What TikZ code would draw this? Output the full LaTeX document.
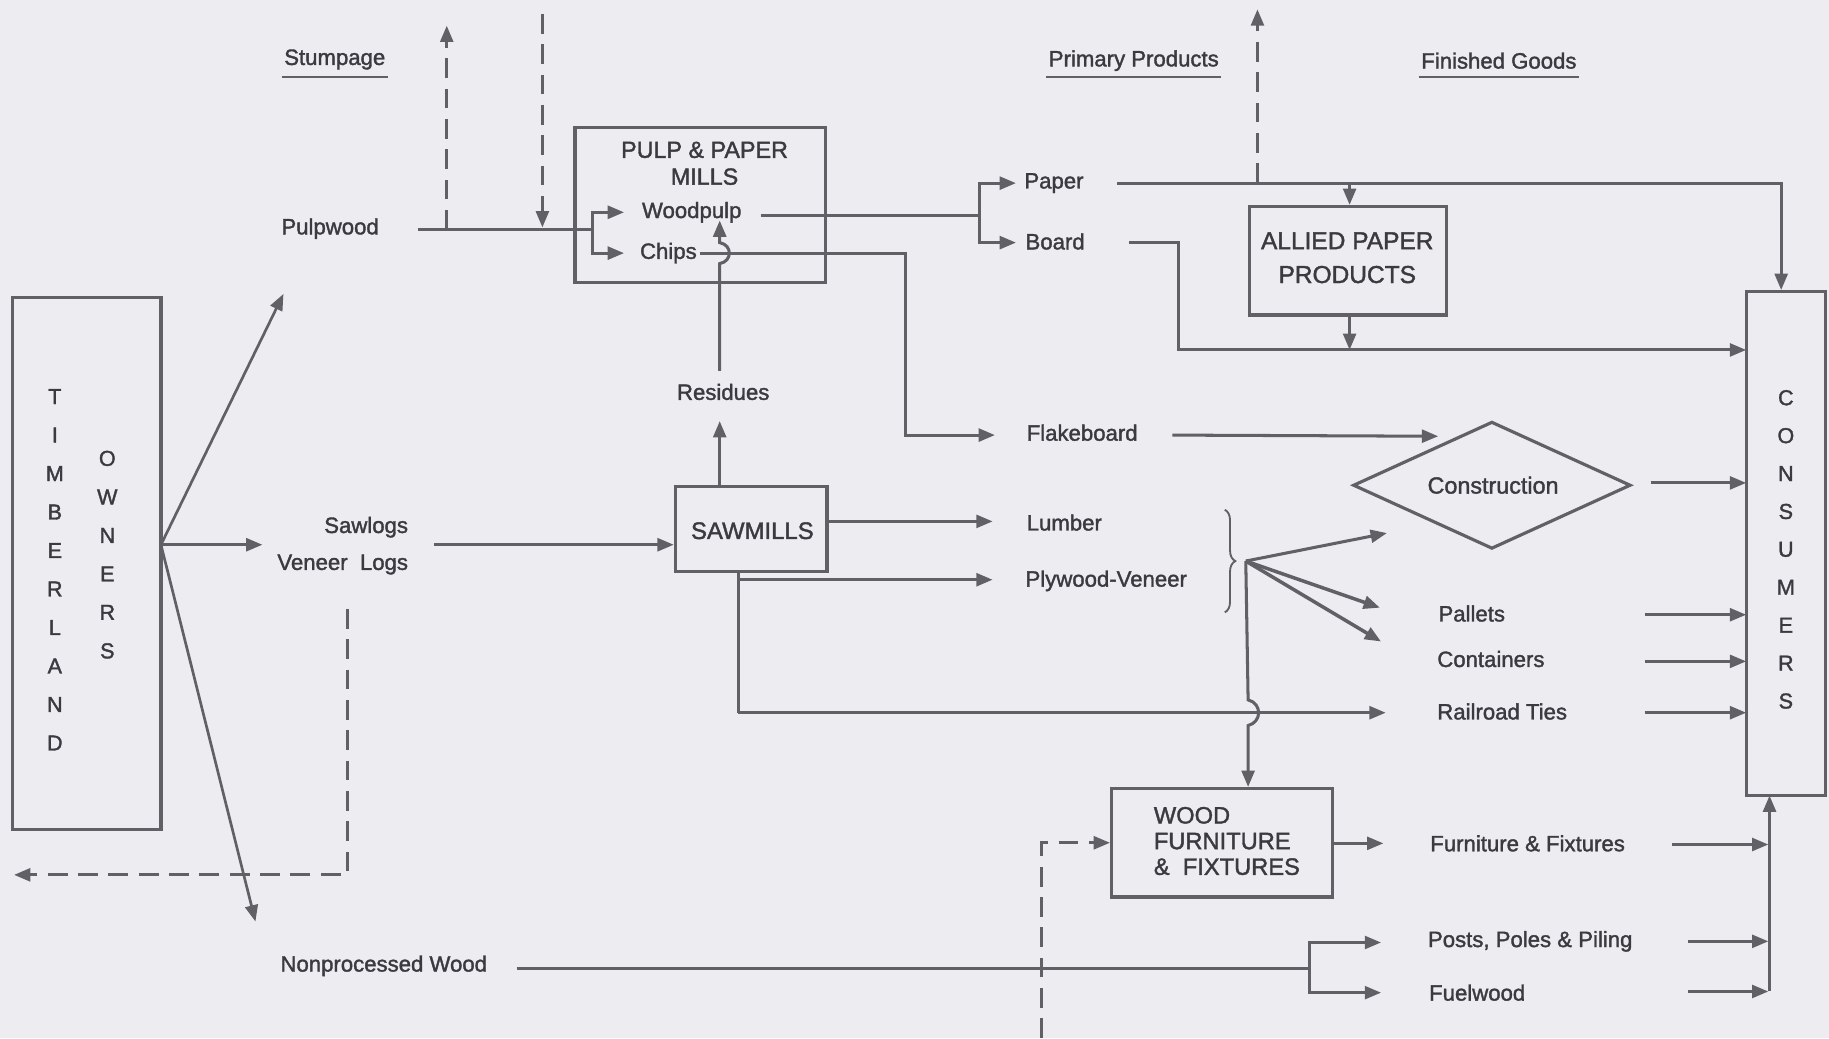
\documentclass[tikz,border=0pt]{standalone}
\usepackage{fontspec}
\setmainfont{Liberation Sans}[FakeBold=1.6]
\usetikzlibrary{arrows.meta,decorations.pathreplacing,shapes.geometric}
\definecolor{bg}{RGB}{237,237,241}
\definecolor{ln}{RGB}{96,96,102}
\definecolor{tx}{RGB}{58,58,64}
\begin{document}
\begin{tikzpicture}[x=1pt,y=-1pt,
  lbl/.style={text=tx,font=\fontsize{19}{22}\selectfont,inner sep=0pt},
  ttl/.style={text=tx,font=\fontsize{20}{23}\selectfont,inner sep=0pt,align=center},
  letter/.style={text=tx,font=\fontsize{18.5}{20}\selectfont,inner sep=0pt},
  boxnode/.style={draw=ln,line width=2.7pt,inner sep=0pt},
  conn/.style={draw=ln,line width=2.6pt},
  arr/.style={conn,-{Triangle[length=14pt,width=11pt]}},
  dsh/.style={conn,dash pattern=on 17pt off 9pt},
  uline/.style={draw=ln,line width=2pt}
]
\fill[bg] (0,0) rectangle (1568,890);
\useasboundingbox (0,0) rectangle (1568,890);

% ---------- headers ----------
\node[lbl] (stump) at (287,51) {Stumpage};
\node[lbl] (prim) at (972,52) {Primary Products};
\node[lbl] (fin) at (1285,52) {Finished Goods};
\draw[uline] ([yshift=-6pt,xshift=-2pt]stump.south west) -- ([yshift=-6pt,xshift=2pt]stump.south east);
\draw[uline] ([yshift=-5pt,xshift=-2pt]prim.south west) -- ([yshift=-5pt,xshift=2pt]prim.south east);
\draw[uline] ([yshift=-7pt,xshift=-2pt]fin.south west) -- ([yshift=-7pt,xshift=2pt]fin.south east);

% ---------- boxes ----------
\node[boxnode,minimum width=127pt,minimum height=456pt] (tim) at (74.5,483) {};
\foreach \l [count=\i] in {T,I,M,B,E,R,L,A,N,D}
  \node[letter] (tl\i) at (47,{340+33*(\i-1)}) {\l};
\foreach \l [count=\i] in {O,W,N,E,R,S}
  \node[letter] (to\i) at (92,{393+33*(\i-1)}) {\l};

\node[boxnode,minimum width=68pt,minimum height=432pt] (cons) at (1531,466) {};
\foreach \l [count=\i] in {C,O,N,S,U,M,E,R,S}
  \node[letter] (cl\i) at (1531,{341+32.5*(\i-1)}) {\l};

\node[boxnode,minimum width=215pt,minimum height=133pt] (pulp) at (600.5,175.5) {};
\node[ttl] (pulpt) at (604,140) {PULP \& PAPER\\MILLS};
\node[lbl] (wp) at (593,182) {Woodpulp};
\node[lbl] (chips) at (573,217) {Chips};

\node[boxnode,minimum width=169pt,minimum height=93pt] (allied) at (1155.5,223.5) {};
\node[ttl,font=\fontsize{21}{29}\selectfont] (alliedt) at (1155,221) {ALLIED PAPER\\PRODUCTS};

\node[boxnode,minimum width=130pt,minimum height=73pt] (saw) at (644,453.5) {};
\node[ttl,font=\fontsize{20.5}{23}\selectfont] (sawt) at (645,455) {SAWMILLS};

\node[boxnode,minimum width=189pt,minimum height=93pt] (wf) at (1047.5,722.5) {};
\node[ttl,align=left,anchor=west,font=\fontsize{20.3}{22}\selectfont] (wft) at (989,721) {WOOD\\FURNITURE\\\&\ \ FIXTURES};

\node[draw=ln,line width=2.7pt,diamond,minimum width=238pt,minimum height=109pt,inner sep=0pt] (constr) at (1279,416) {};
\node[lbl,font=\fontsize{20}{22}\selectfont] (constrt) at (1280,416) {Construction};

% ---------- labels ----------
\node[lbl] (pw) at (283,196) {Pulpwood};
\node[lbl,anchor=east] (sawlogs) at (350,452) {Sawlogs};
\node[lbl,anchor=east] (veneer) at (350,484) {Veneer\ \ Logs};
\node[lbl] (npw) at (329,828) {Nonprocessed Wood};
\node[lbl] (res) at (620,336) {Residues};
\node[lbl,anchor=west] (paper) at (878,157) {Paper};
\node[lbl,anchor=west] (board) at (879,207) {Board};
\node[lbl,anchor=west] (flake) at (880,371) {Flakeboard};
\node[lbl,anchor=west] (lumber) at (880,448) {Lumber};
\node[lbl,anchor=west] (plywood) at (879,498) {Plywood-Veneer};
\node[lbl,anchor=west] (pallets) at (1233,526) {Pallets};
\node[lbl,anchor=west] (contain) at (1232,565) {Containers};
\node[lbl,anchor=west] (rail) at (1232,610) {Railroad Ties};
\node[lbl,anchor=west] (furn) at (1226,723) {Furniture \& Fixtures};
\node[lbl,anchor=west] (posts) at (1224,807) {Posts, Poles \& Piling};
\node[lbl,anchor=west] (fuel) at (1225,851) {Fuelwood};

% ---------- coordinates ----------
\coordinate (fan) at (138,467);
\coordinate (fanP) at (243,252);
\coordinate (fanS) at (225,467);
\coordinate (fanN) at (219,790);
\coordinate (dA) at (298,522);
\coordinate (dB) at (298,750);
\coordinate (dC) at (12,750);
\coordinate (pwS) at (358,197);
\coordinate (pwJ) at (508,197);
\coordinate (pwU) at (383,197);
\coordinate (pwUt) at (383,22);
\coordinate (pwDt) at (465,12);
\coordinate (pwD) at (465,195);
\coordinate (wpA) at (535,182);
\coordinate (chA) at (535,217);
\coordinate (wpS) at (652,185);
\coordinate (wpJ) at (840,185);
\coordinate (paA) at (871,157);
\coordinate (boA) at (871,208);
\coordinate (chS) at (600,217);
\coordinate (chJ) at (776,217);
\coordinate (flA) at (853,373);
\coordinate (resS) at (617,318);
\coordinate (resH1) at (617,226);
\coordinate (resH2) at (617,208);
\coordinate (resE) at (617,189);
\coordinate (sawUp) at (617,361);
\coordinate (slS) at (372,467);
\coordinate (lumS) at (709,447);
\coordinate (lumA) at (851,447);
\coordinate (sawB) at (633,490);
\coordinate (plyJ) at (633,497);
\coordinate (plyA) at (851,497);
\coordinate (railJ) at (633,611);
\coordinate (railA) at (1188,611);
\coordinate (paS) at (958,157);
\coordinate (paAl) at (1157,157);
\coordinate (paC) at (1527,157);
\coordinate (paUp) at (1078,157);
\coordinate (paUpt) at (1078,8);
\coordinate (boS) at (968,208);
\coordinate (boJ) at (1010,208);
\coordinate (alB) at (1157,300);
\coordinate (boC) at (1497,300);
\coordinate (flS) at (1005,373);
\coordinate (flE) at (1233,374);
\coordinate (coS) at (1415,414);
\coordinate (coE) at (1497,414);
\coordinate (br) at (1068,481);
\coordinate (brC) at (1189,457);
\coordinate (brP) at (1183,521);
\coordinate (brK) at (1184,550);
\coordinate (brH1) at (1070,600);
\coordinate (brH2) at (1070,622);
\coordinate (paS2) at (1410,527);
\coordinate (paE2) at (1497,527);
\coordinate (ctS) at (1410,567);
\coordinate (ctE) at (1497,567);
\coordinate (rtS) at (1410,611);
\coordinate (rtE) at (1497,611);
\coordinate (wfA) at (1186,723);
\coordinate (wdB) at (893,890);
\coordinate (npS) at (443,830);
\coordinate (npJ) at (1123,830);
\coordinate (poA) at (1184,808);
\coordinate (fuA) at (1184,851);
\coordinate (fuS) at (1433,724);
\coordinate (fuE) at (1516,724);
\coordinate (poS) at (1447,807);
\coordinate (poE) at (1516,807);
\coordinate (fwS) at (1447,850);
\coordinate (fwE) at (1516,850);
\coordinate (vB) at (1517,850);
\coordinate (vT) at (1517,682);

% ---------- connectors ----------
% fan from timberland owners
\draw[arr,line width=2.3pt] (fan) -- (fanP);
\draw[arr] (fan) -- (fanS);
\draw[arr,line width=2.3pt] (fan) -- (fanN);
\draw[dsh,-{Triangle[length=14pt,width=11pt]}] (dA) -- (dB) -- (dC);

% pulpwood
\draw[conn] (pwS) -- (pwJ);
\draw[arr] (pwJ) |- (wpA);
\draw[arr] (pwJ) |- (chA);
\draw[dsh,-{Triangle[length=14pt,width=11pt]}] (pwU) -- (pwUt);
\draw[dsh,-{Triangle[length=14pt,width=11pt]}] (pwDt) -- (pwD);

% woodpulp to paper / board
\draw[conn] (wpS) -- (wpJ);
\draw[arr] (wpJ) |- (paA);
\draw[arr] (wpJ) |- (boA);

% chips to flakeboard
\draw[arr] (chS) -- (chJ) |- (flA);

% residues
\draw[arr] (resS) -- (resH1) .. controls (628,224) and (628,210) .. (resH2) -- (resE);
\draw[arr] (saw.north -| sawUp) -- (sawUp);

% sawlogs
\draw[arr] (slS) -- (saw.west |- slS);
\draw[arr] (lumS) -- (lumA);
\draw[conn] (sawB) -- (railJ);
\draw[arr] (plyJ) -- (plyA);
\draw[arr] (railJ) -- (railA);

% paper
\draw[arr] (paS) -- (paC) -- (cons.north -| paC);
\draw[arr] (paAl) -- (allied.north -| paAl);
\draw[dsh,-{Triangle[length=14pt,width=11pt]}] (paUp) -- (paUpt);

% board
\draw[arr] (boS) -- (boJ) |- (boC);
\draw[arr] (allied.south -| alB) -- (alB);

% flakeboard / construction
\draw[arr] (flS) -- (flE);
\draw[arr] (coS) -- (coE);

% brace
\draw[ln,line width=1.6pt,decorate,decoration={brace,amplitude=9pt}] (1050,437) -- (1050,525);
\draw[arr] (br) -- (brC);
\draw[arr,line width=3pt] (br) -- (brP);
\draw[arr,line width=3pt] (br) -- (brK);
\draw[arr] (br) -- (brH1) .. controls (1082,603) and (1082,619) .. (brH2) -- (wf.north -| brH2);

% to consumers
\draw[arr] (paS2) -- (paE2);
\draw[arr] (ctS) -- (ctE);
\draw[arr] (rtS) -- (rtE);

% wood furniture
\draw[dsh,-{Triangle[length=14pt,width=11pt]}] (wdB) |- (wf.west);
\draw[arr] (wf.east |- wfA) -- (wfA);

% nonprocessed
\draw[conn] (npS) -- (npJ);
\draw[arr] (npJ) |- (poA);
\draw[arr] (npJ) |- (fuA);

% right column
\draw[arr] (fuS) -- (fuE);
\draw[arr] (poS) -- (poE);
\draw[arr] (fwS) -- (fwE);
\draw[arr] (vB) -- (vT);
\end{tikzpicture}
\end{document}
